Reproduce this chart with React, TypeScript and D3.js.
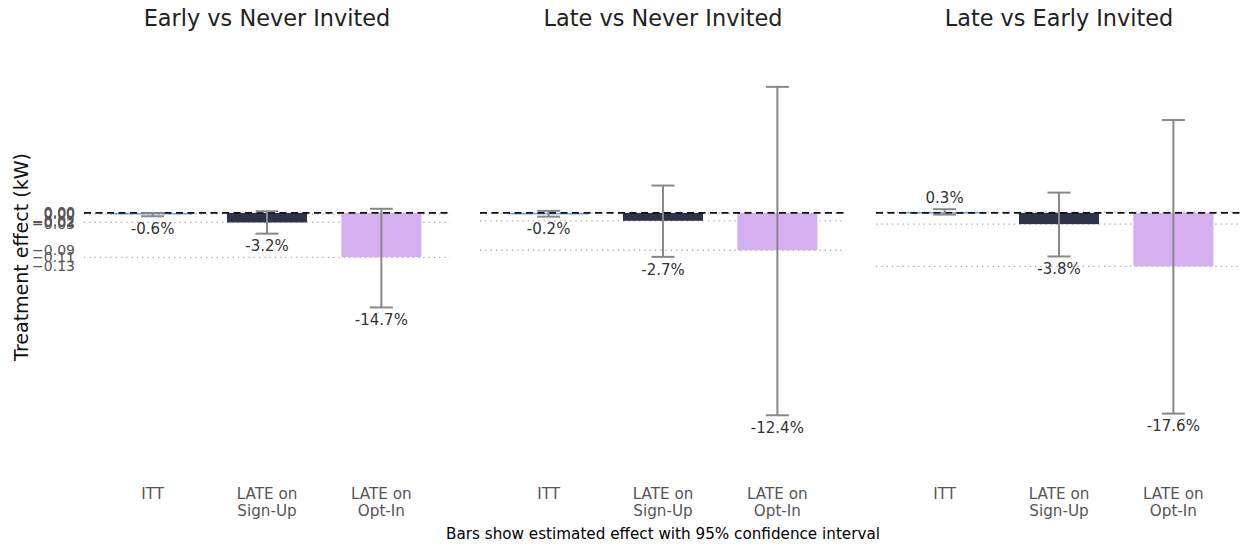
import React from "react";
import * as d3 from "d3";

// Panels: each compares two invitation groups
const panels = ["Early vs Never Invited", "Late vs Never Invited", "Late vs Early Invited"];
const categories = ["ITT", "LATE on\nSign-Up", "LATE on\nOpt-In"];

// Point estimates (kW), per panel, per category
const estimates = [
  [-0.003, -0.023, -0.107],
  [-0.001, -0.019, -0.090],
  [0.002, -0.027, -0.129],
];
// 95% confidence interval bounds (kW)
const ciLower = [
  [-0.008, -0.050, -0.228],
  [-0.009, -0.106, -0.488],
  [-0.004, -0.105, -0.484],
];
const ciUpper = [
  [0.000, 0.004, 0.010],
  [0.005, 0.066, 0.304],
  [0.009, 0.049, 0.224],
];
// Effect relative to baseline (%)
const pctLabels = [
  [-0.6, -3.2, -14.7],
  [-0.2, -2.7, -12.4],
  [0.3, -3.8, -17.6],
];

const barColors = ["#4a90d9", "#2e3349", "#d5aff0"];

const W = 1241;
const H = 546;
const font = "DejaVu Sans, sans-serif";

const panelLeft = 84;
const panelWidth = 366;
const panelGap = 30;

export default function App() {
  const y = d3.scaleLinear().domain([-0.62, 0.405]).range([470, 45]);

  // Shared y-axis ticks: every estimate across all panels
  const tickValues = estimates.flat();
  const fmt = d3.format(".2f");

  return (
    <svg
      width={W}
      height={H}
      style={{ position: "absolute", left: 0, top: 0, fontFamily: font }}
    >
      <rect width={W} height={H} fill="#ffffff" />

      {/* y-axis tick labels */}
      {tickValues.map((v, i) => (
        <text
          key={`yt${i}`}
          x={75}
          y={y(v)}
          dy="0.35em"
          textAnchor="end"
          fontSize={14}
          fill="#555"
        >
          {fmt(v)}
        </text>
      ))}

      <text
        transform={`translate(21,${257}) rotate(-90)`}
        textAnchor="middle"
        dy="0.35em"
        fontSize={19}
        fill="#111"
      >
        Treatment effect (kW)
      </text>

      {panels.map((title, p) => {
        const left = panelLeft + p * (panelWidth + panelGap);
        const x = d3.scaleLinear().domain([-0.6, 2.6]).range([left, left + panelWidth]);
        const step = x(1) - x(0);
        const bw = step * 0.7;
        const capW = 23;
        return (
          <g key={title}>
            <text
              x={left + panelWidth / 2}
              y={18}
              dy="0.35em"
              textAnchor="middle"
              fontSize={22.4}
              fill="#222"
            >
              {title}
            </text>

            {/* dotted reference lines at each estimate */}
            {estimates[p].map((v, i) => (
              <line
                key={`ref${i}`}
                x1={left}
                x2={left + panelWidth}
                y1={y(v)}
                y2={y(v)}
                stroke="#aaa"
                strokeWidth={1.3}
                strokeDasharray="1.3,4"
              />
            ))}

            {/* bars */}
            {estimates[p].map((v, i) => {
              const y0 = y(0);
              const y1 = y(v);
              const top = Math.min(y0, y1);
              const h = Math.max(Math.abs(y1 - y0), 1.5);
              return (
                <rect
                  key={`bar${i}`}
                  x={x(i) - bw / 2}
                  y={top}
                  width={bw}
                  height={h}
                  fill={barColors[i]}
                  opacity={i === 0 ? 0.8 : 1}
                />
              );
            })}

            {/* zero line */}
            <line
              x1={left}
              x2={left + panelWidth}
              y1={y(0)}
              y2={y(0)}
              stroke="#111"
              strokeWidth={1.8}
              strokeDasharray="7,4.5"
            />

            {/* confidence intervals */}
            {estimates[p].map((v, i) => {
              const cx = x(i);
              const lo = y(ciLower[p][i]);
              const hi = y(ciUpper[p][i]);
              return (
                <g key={`ci${i}`} stroke="#888" strokeWidth={2}>
                  <line x1={cx} x2={cx} y1={hi} y2={lo} />
                  <line x1={cx - capW / 2} x2={cx + capW / 2} y1={hi} y2={hi} />
                  <line x1={cx - capW / 2} x2={cx + capW / 2} y1={lo} y2={lo} />
                </g>
              );
            })}

            {/* percent labels beyond the interval end */}
            {estimates[p].map((v, i) => {
              const pct = pctLabels[p][i];
              const ly = pct >= 0 ? y(ciUpper[p][i]) - 11 : y(ciLower[p][i]) + 12.5;
              return (
                <text
                  key={`lab${i}`}
                  x={x(i)}
                  y={ly}
                  dy="0.35em"
                  textAnchor="middle"
                  fontSize={15}
                  fill="#333"
                >
                  {`${pct.toFixed(1)}%`}
                </text>
              );
            })}

            {/* category labels */}
            {categories.map((c, i) => (
              <text key={`cat${i}`} x={x(i)} y={494} textAnchor="middle" fontSize={15.2} fill="#555">
                {c.split("\n").map((line, k) => (
                  <tspan key={k} x={x(i)} dy={k === 0 ? "0.35em" : 17}>
                    {line}
                  </tspan>
                ))}
              </text>
            ))}
          </g>
        );
      })}

      <text x={663} y={534} dy="0.35em" textAnchor="middle" fontSize={15.2} fill="#000">
        Bars show estimated effect with 95% confidence interval
      </text>
    </svg>
  );
}
